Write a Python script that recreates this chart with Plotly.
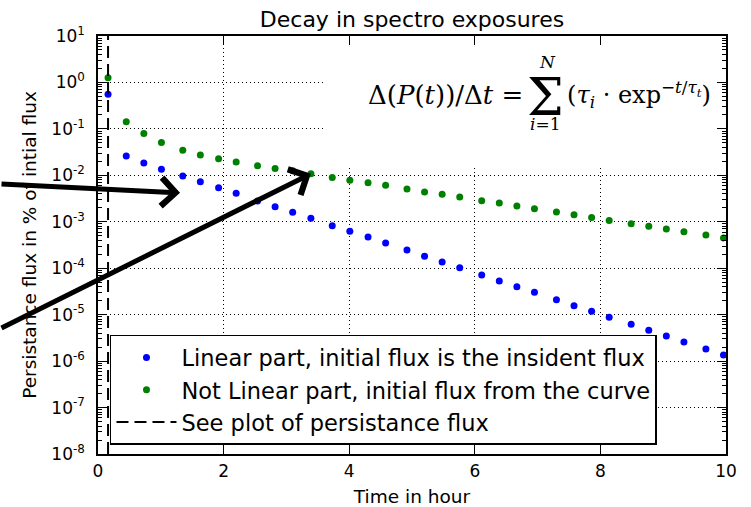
import math
import plotly.graph_objects as go

# ---- data ----
time_h = [0.16, 0.45, 0.73, 1.01, 1.35, 1.63, 1.92, 2.20, 2.54, 2.82, 3.10, 3.39,
          3.73, 4.01, 4.30, 4.58, 4.92, 5.20, 5.48, 5.76, 6.11, 6.39, 6.67, 6.95,
          7.30, 7.58, 7.86, 8.14, 8.49, 8.77, 9.05, 9.33, 9.68, 9.96]
linear_part = [0.554, 0.0260, 0.0184, 0.0136, 0.00965, 0.00728, 0.00540, 0.00409,
               0.00279, 0.00211, 0.00160, 0.00119, 0.000821, 0.000622, 0.000469,
               0.000348, 0.000246, 0.000180, 0.000136, 0.000102, 7.13e-5, 5.29e-5,
               3.99e-5, 3.02e-5, 2.09e-5, 1.56e-5, 1.18e-5, 8.75e-6, 6.18e-6,
               4.59e-6, 3.46e-6, 2.57e-6, 1.82e-6, 1.35e-6]
not_linear_part = [1.26, 0.143, 0.080, 0.051, 0.0345, 0.0273, 0.0228, 0.0193,
                   0.0161, 0.0141, 0.0126, 0.0108, 0.0090, 0.0078, 0.0069, 0.0061,
                   0.0051, 0.0044, 0.0039, 0.0034, 0.00284, 0.00253, 0.00218,
                   0.00191, 0.00162, 0.00142, 0.00124, 0.00107, 0.00091, 0.00080,
                   0.00070, 0.00061, 0.00052, 0.00045]
marker_time = 0.16
y_exponents = [-8, -7, -6, -5, -4, -3, -2, -1, 0, 1]
y_tickvals = [10.0 ** e for e in y_exponents]
y_ticktext = ["10<sup>%d</sup>" % e for e in y_exponents]
x_tickvals = [0, 2, 4, 6, 8, 10]
arrow_targets = [(1.306, 0.0042), (3.39, 0.0108)]

# minor log ticks (2..9 in every decade) -- axis styling
y_minor = [m * 10.0 ** e for e in y_exponents[:-1] for m in range(2, 10)]

FONT = "DejaVu Sans"
SERIF = "DejaVu Serif"
fig = go.Figure()

fig.add_trace(go.Scatter(
    x=time_h, y=linear_part, mode="markers",
    marker=dict(color="#0000ff", size=7),
    name="Linear part, initial flux is the insident flux"))
fig.add_trace(go.Scatter(
    x=time_h, y=not_linear_part, mode="markers",
    marker=dict(color="#008000", size=7),
    name="Not Linear part, initial flux from the curve"))
fig.add_trace(go.Scatter(
    x=[marker_time, marker_time], y=[y_tickvals[0], y_tickvals[-1]], mode="lines",
    line=dict(color="black", width=2, dash="12px,6px"),
    name="See plot of persistance flux"))

# white box behind the formula (hides the grid there, like the text bbox)
fig.add_shape(type="rect", xref="paper", yref="paper",
              x0=0.3615, x1=0.985, y0=0.689, y1=0.977,
              fillcolor="white", line=dict(width=0), layer="above")

ann = []
# formula
ann.append(dict(xref="paper", yref="paper", x=0.680, y=0.859, xanchor="right", yanchor="middle",
                text="Δ(<i>P</i>(<i>t</i>))/Δ<i>t</i> =", showarrow=False,
                font=dict(family=SERIF, size=26, color="black")))
ann.append(dict(xref="paper", yref="paper", x=0.7126, y=0.855, xanchor="center", yanchor="middle",
                text="Σ", showarrow=False,
                font=dict(family=SERIF, size=52, color="black")))
ann.append(dict(xref="paper", yref="paper", x=0.715, y=0.938, xanchor="center", yanchor="middle",
                text="<i>N</i>", showarrow=False,
                font=dict(family=SERIF, size=17, color="black")))
ann.append(dict(xref="paper", yref="paper", x=0.712, y=0.790, xanchor="center", yanchor="middle",
                text="<i>i</i>=1", showarrow=False,
                font=dict(family=SERIF, size=17, color="black")))
ann.append(dict(xref="paper", yref="paper", x=0.744, y=0.859, xanchor="left", yanchor="middle",
                text="(<i>τ<sub>i</sub></i> · exp<sup>−<i>t</i>/<i>τ<sub>t</sub></i></sup>)", showarrow=False,
                font=dict(family=SERIF, size=24, color="black")))

# arrows
ann.append(dict(x=arrow_targets[0][0], y=math.log10(arrow_targets[0][1]), xref="x", yref="y",
                ax=-192, ay=-9, axref="pixel", ayref="pixel", text="", showarrow=True,
                arrowhead=4, arrowsize=1.1, arrowwidth=5, arrowcolor="black"))
ann.append(dict(x=arrow_targets[1][0], y=math.log10(arrow_targets[1][1]), xref="x", yref="y",
                ax=-322, ay=155, axref="pixel", ayref="pixel", text="", showarrow=True,
                arrowhead=4, arrowsize=1.1, arrowwidth=5, arrowcolor="black"))

fig.update_layout(
    width=751, height=507,
    margin=dict(l=98, r=25, t=36, b=53),
    paper_bgcolor="white", plot_bgcolor="white",
    font=dict(family=FONT, color="black", size=17),
    title=dict(text="Decay in spectro exposures", x=0.5, xref="paper",
               y=1 - 19 / 507, yref="container", yanchor="middle", xanchor="center",
               font=dict(size=22, family=FONT, color="black")),
    showlegend=True,
    legend=dict(x=0.0191, y=0.285, xanchor="left", yanchor="top",
                bgcolor="white", bordercolor="black", borderwidth=1.5,
                font=dict(size=22.5, family=FONT, color="black"), itemwidth=60),
    annotations=ann,
)

fig.update_xaxes(
    range=[0, 10], tickvals=x_tickvals, ticks="inside", ticklen=9, tickwidth=1,
    tickcolor="black", showline=True, linecolor="black", linewidth=1.5, mirror="allticks",
    showgrid=True, gridcolor="black", griddash="1px,3px", gridwidth=1, zeroline=False,
    ticklabelstandoff=1, automargin=False,
    title=dict(text="Time in hour", font=dict(size=18.5, family=FONT), standoff=18),
)
fig.update_yaxes(
    type="log", range=[-8, 1], tickvals=y_tickvals, ticktext=y_ticktext,
    ticks="inside", ticklen=9, tickwidth=1, tickcolor="black",
    minor=dict(tickmode="array", tickvals=y_minor, ticks="inside", ticklen=4, tickwidth=1,
               tickcolor="black", showgrid=False),
    showline=True, linecolor="black", linewidth=1.5, mirror="allticks",
    showgrid=True, gridcolor="black", griddash="1px,3px", gridwidth=1, zeroline=False,
    ticklabelstandoff=8, automargin=False,
    title=dict(text="Persistance flux in % of intial flux", font=dict(size=18.5, family=FONT), standoff=10),
)

fig.write_html("out.html")
